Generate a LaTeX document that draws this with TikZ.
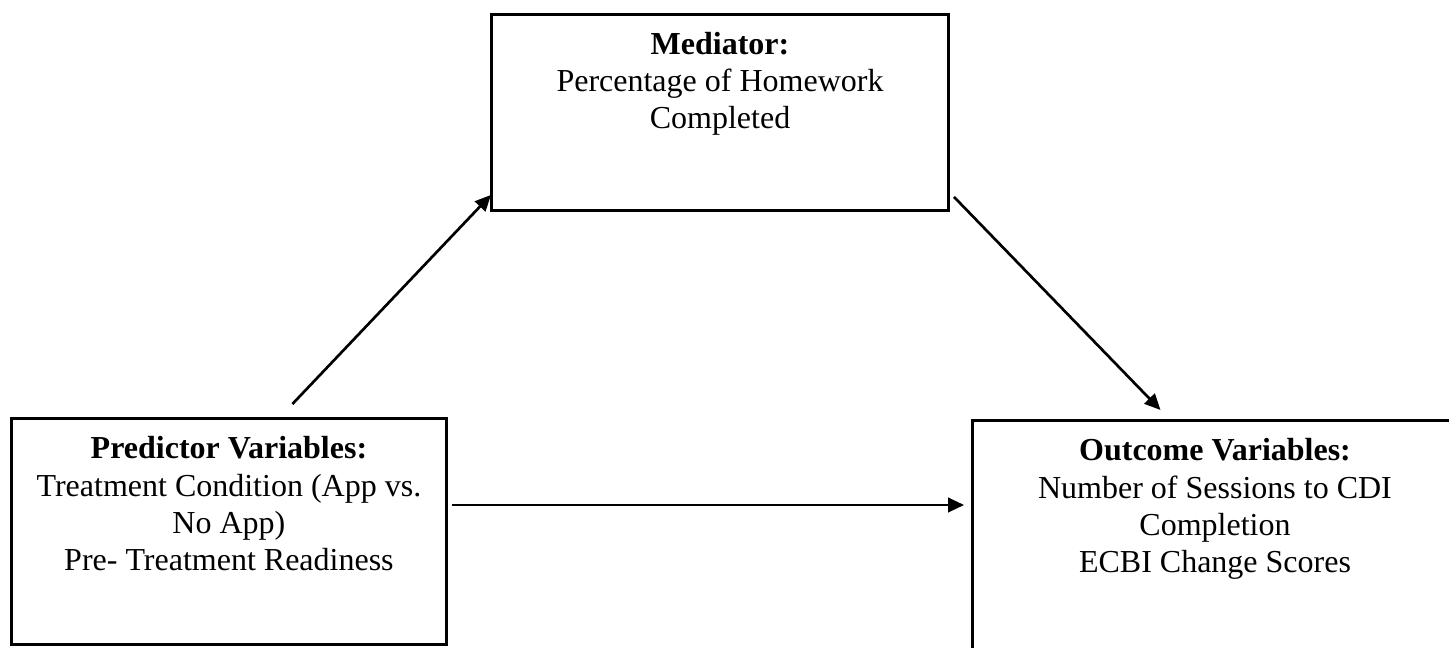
\documentclass[tikz,border=0pt]{standalone}
\usepackage{fontspec}
\setmainfont{Liberation Serif}
\usetikzlibrary{arrows.meta,calc,positioning}

\begin{document}
\begin{tikzpicture}[x=0.375pt,y=0.375pt]
			
			\tikzset{
				varbox/.style={
					draw,
					rectangle,
					line width=1.1pt,
					inner sep=0pt,
					anchor=north west
				},
				vartext/.style={
					align=center,
					inner sep=0pt,
					anchor=north,
					font=\fontsize{12}{13.9}\selectfont
				},
				path/.style={
					line width=1pt,
					-{Triangle[length=6pt,width=5.4pt]}
				}
			}
			
			\useasboundingbox (0,0) rectangle (1449,647);
			\clip (0,0) rectangle (1449,647);
			
			% MEDIATOR
			\node[varbox, minimum width=171.4pt, minimum height=73.5pt] (med) at (490,634) {};
			\node[vartext, below=6.9pt of med.north] (medtxt) {
				\textbf{Mediator:}\\
				Percentage of Homework\\
				Completed
			};
			
			% PREDICTOR
			\node[varbox, minimum width=163.1pt, minimum height=84.8pt] (pred) at (10,230) {};
			\node[vartext, below=7.2pt of pred.north] (predtxt) {
				\textbf{Predictor Variables:}\\
				Treatment Condition (App vs.\\
				No App)\\
				Pre- Treatment Readiness
			};
			
			% OUTCOME
			\node[varbox, minimum width=181.9pt, minimum height=90.4pt] (out) at (971,228) {};
			\node[vartext, below=7.2pt of out.north] (outtxt) {
				\textbf{Outcome Variables:}\\
				Number of Sessions to CDI\\
				Completion\\
				ECBI Change Scores
			};
			
			% PATHS
			\coordinate (astart) at ($(pred.north)+(63.5,13)$);
			\coordinate (bstart) at ($(med.south east)+(4,15)$);
			\coordinate (cstart) at ($(pred.north east)+(4,-88)$);
			
			\draw[path] (astart) -- ($(med.south west)+(1,17)$);
			\draw[path] (bstart) -- ($(out.north)+(-54.5,9)$);
			\draw[path, shorten >=2.6pt] (cstart) -- (cstart -| out.west);
			
		\end{tikzpicture}
\end{document}
